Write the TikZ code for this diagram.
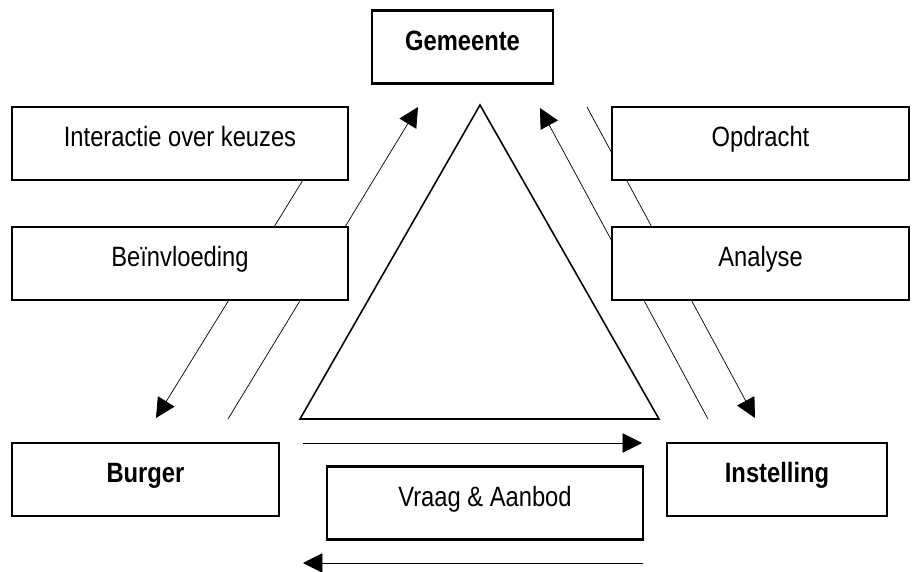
\documentclass[tikz,border=0pt]{standalone}
\usepackage{fontspec}
\setmainfont[FakeStretch=0.85]{Liberation Sans}
\usetikzlibrary{arrows.meta, backgrounds}

\begin{document}
\begin{tikzpicture}[x=0.02cm, y=-0.02cm, line width=0.8pt,
    box/.style={draw, fill=white, line width=1.2pt, inner sep=0pt,
      minimum height=1.46cm, text height=0.42cm, text depth=0.3cm,
      font=\fontsize{15.9}{19}\selectfont},
    pijl/.style={-{Triangle[length=0.39cm, width=0.39cm]}}]
  \useasboundingbox (0,0) rectangle (921,572);

  \node[box, minimum width=3.62cm] (gemeente) at (462.5,47) {\bfseries Gemeente};
  \node[box, minimum width=6.72cm] (interactie) at (180,143.5) {Interactie over keuzes};
  \node[box, minimum width=6.72cm] (invloed) at (180,263.5) {Beïnvloeding};
  \node[box, minimum width=5.94cm] (opdracht) at (760.5,143.5) {Opdracht};
  \node[box, minimum width=5.94cm] (analyse) at (760.5,263.5) {Analyse};
  \node[box, minimum width=5.34cm] (burger) at (145.5,479.5) {\bfseries Burger};
  \node[box, minimum width=6.32cm] (vraag) at (485,503) {Vraag \& Aanbod};
  \node[box, minimum width=4.4cm] (instelling) at (777,479.5) {\bfseries Instelling};

  \coordinate (top) at (480,105);
  \coordinate (links) at (300,419);
  \coordinate (rechts) at (659,419);

  \coordinate (invloed-a) at (303,180);
  \coordinate (invloed-b) at (156,418);
  \coordinate (burger-a) at (228,419);
  \coordinate (burger-b) at (418,107);
  \coordinate (analyse-a) at (708,419);
  \coordinate (analyse-b) at (540,108);
  \coordinate (opdracht-a) at (587,107);
  \coordinate (opdracht-b) at (755,418);
  \coordinate (vraag-a) at (303,443);
  \coordinate (vraag-b) at (642,443);
  \coordinate (aanbod-a) at (643,563);
  \coordinate (aanbod-b) at (303,563);

  \begin{scope}[on background layer]
    \draw[line width=0.9pt] (links) -- (rechts) -- (top) -- cycle;
    \draw[pijl] (invloed-a) -- (invloed-b);
    \draw[pijl] (burger-a) -- (burger-b);
    \draw[pijl] (analyse-a) -- (analyse-b);
    \draw[pijl] (opdracht-a) -- (opdracht-b);
    \draw[pijl] (vraag-a) -- (vraag-b);
    \draw[pijl] (aanbod-a) -- (aanbod-b);
  \end{scope}
\end{tikzpicture}
\end{document}
